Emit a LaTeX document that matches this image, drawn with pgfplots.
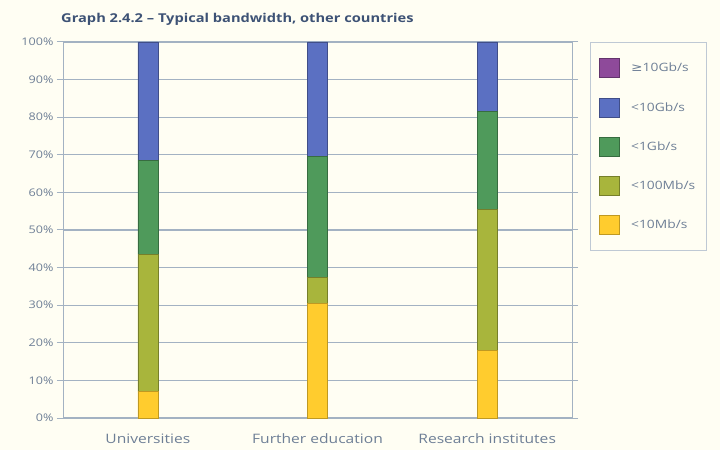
\documentclass[border=0pt]{standalone}
\usepackage{pgfplots}
\pgfplotsset{compat=1.18}
\usepackage{fontspec}
\setmainfont{Open Sans}[FakeStretch=1.2]
\newfontfamily\dejavu{DejaVu Sans}[FakeStretch=1.2]
\definecolor{bg}{HTML}{FFFEF3}
\definecolor{titlecol}{HTML}{3D5275}
\definecolor{labcol}{HTML}{6E7F96}
\definecolor{gridcol}{HTML}{A3B2C2}
\definecolor{cyel}{HTML}{FFCC2E}
\definecolor{colive}{HTML}{A8B53C}
\definecolor{cgreen}{HTML}{4F9A5B}
\definecolor{cblue}{HTML}{5B70C2}
\definecolor{cpurple}{HTML}{8E4A9A}
\begin{document}
\begin{tikzpicture}[x=1pt,y=1pt]
\fill[bg] (0,0) rectangle (720,450);
\useasboundingbox (0,0) rectangle (720,450);
\node[anchor=west, font=\bfseries\fontsize{12.2}{14}\selectfont, text=titlecol, inner sep=0] at (61,431) {Graph 2.4.2 -- Typical bandwidth, other countries};
\begin{axis}[
  at={(63pt,32pt)}, anchor=south west,
  scale only axis, width=509pt, height=376pt,
  ybar stacked, bar width=20pt,
  xmin=-0.5, xmax=2.5, ymin=0, ymax=100,
  xtick={0,1,2},
  xticklabels={Universities, Further education, Research institutes},
  x tick label style={font=\fontsize{13}{15}\selectfont, text=labcol, yshift=-6pt},
  major x tick style={draw=none},
  extra x ticks={0.5,1.5},
  extra x tick labels={},
  extra x tick style={grid=none, major tick length=4pt, tick style={draw=gridcol, line width=0.8pt}},
  ytick={0,10,...,100},
  yticklabel={\pgfmathprintnumber{\tick}\%},
  /pgf/number format/assume math mode=true,
  y tick label style={font=\fontsize{10.5}{12}\selectfont, text=labcol},
  ymajorgrids, grid style={draw=gridcol, line width=1.2pt},
  tick align=outside, major tick length=6pt,
  ytick style={draw=gridcol, line width=1pt},
  axis line style={draw=gridcol, line width=1pt},
  axis background/.style={fill=bg},
  legend style={at={(1.0354,1)}, anchor=north west, draw=gridcol!70, line width=0.8pt, fill=bg,
    font=\fontsize{11.5}{13}\selectfont, text=labcol, row sep=19.5pt, inner xsep=9pt, inner ysep=16pt,
    legend cell align=left},
  reverse legend,
  legend image code/.code={\draw[#1, line width=0.7pt] (0pt,-9.5pt) rectangle (20pt,9.5pt); \path (29pt,0pt);},
  clip=false,
]
\addplot[fill=cyel, draw=cyel!75!black] coordinates {(0,7) (1,30.5) (2,18)};
\addplot[fill=colive, draw=colive!70!black] coordinates {(0,36.5) (1,7) (2,37.5)};
\addplot[fill=cgreen, draw=cgreen!70!black] coordinates {(0,25) (1,32) (2,26)};
\addplot[fill=cblue, draw=cblue!70!black] coordinates {(0,31.5) (1,30.5) (2,18.5)};
\addplot[fill=cpurple, draw=cpurple!70!black] coordinates {(0,0) (1,0) (2,0)};
\legend{{<10Mb/s}, {<100Mb/s}, {<1Gb/s}, {<10Gb/s}, {\dejavu ≥}10Gb/s}
\end{axis}
\end{tikzpicture}
\end{document}
